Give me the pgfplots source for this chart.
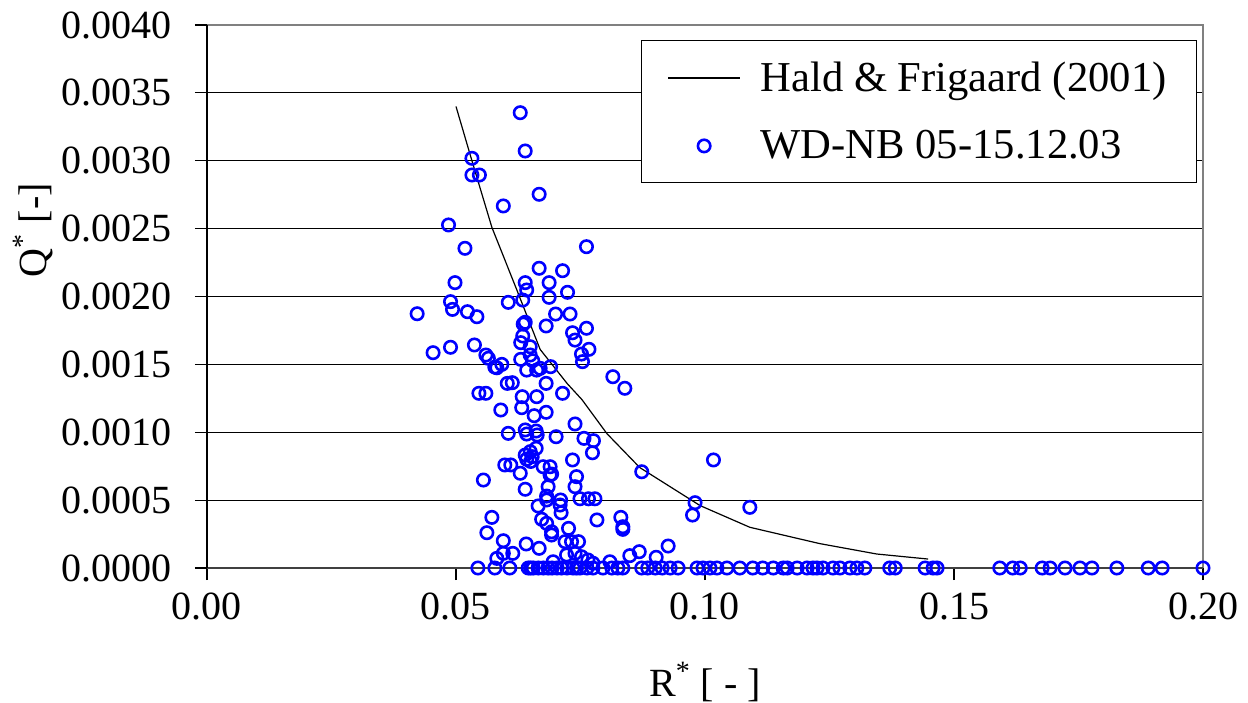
\documentclass[border=0pt]{standalone}
\usepackage{fontspec}
\setmainfont{Liberation Serif}
\usepackage{pgfplots}
\pgfplotsset{compat=1.18}
\definecolor{mblue}{RGB}{0,0,255}
\pgfplotsset{
  lineleg/.style={legend image code/.code={\draw[##1] (0pt,0pt) -- (36pt,0pt);}},
  markleg/.style={legend image code/.code={\draw[mark repeat=2,mark phase=2,##1] plot coordinates {(0pt,0pt) (18pt,0pt) (36pt,0pt)};}},
}
\begin{document}
\begin{tikzpicture}
\begin{axis}[
  at={(0,0)}, anchor=south west,
  scale only axis, width=498pt, height=271.5pt,
  xmin=0, xmax=0.2, ymin=0, ymax=0.004,
  xtick={0,0.05,0.1,0.15,0.2},
  ytick={0,0.0005,0.001,0.0015,0.002,0.0025,0.003,0.0035,0.004},
  scaled ticks=false,
  /pgf/number format/assume math mode=true,
  xticklabel style={/pgf/number format/fixed, /pgf/number format/fixed zerofill, /pgf/number format/precision=2, yshift=-3pt},
  yticklabel style={/pgf/number format/fixed, /pgf/number format/fixed zerofill, /pgf/number format/precision=4, xshift=-8pt},
  ticklabel style={font=\fontsize{20}{23}\selectfont},
  tick pos=left, tick align=outside, major tick length=6pt,
  tick style={black, line width=0.6pt},
  ymajorgrids, major grid style={black, line width=0.5pt},
  axis line style={draw=none},
  clip=false,
  every axis x label/.style={at={(rel axis cs:0.5,0)}, yshift=-57pt, anchor=center, font=\fontsize{20}{23}\selectfont},
  every axis y label/.style={at={(rel axis cs:0,0.622)}, xshift=-87pt, rotate=90, anchor=center, font=\fontsize{20}{23}\selectfont},
  xlabel={R\textsuperscript{*} [ - ]},
  ylabel={Q\textsuperscript{*} [-]},
  legend style={at={(rel axis cs:0.994,0.972)}, anchor=north east, draw=black, line width=0.5pt,
    font=\fontsize{21.3}{25}\selectfont, inner xsep=13pt, inner ysep=8.5pt, row sep=14pt, fill=white,
    /tikz/every odd column/.append style={column sep=8pt}},
  legend cell align=left,
]
\draw[line width=1pt, gray] (rel axis cs:0,1) -- (rel axis cs:1,1) -- (rel axis cs:1,0);
\draw[line width=1pt, black!75] (rel axis cs:0,0) -- (rel axis cs:1,0);
\draw[line width=1pt, black] (rel axis cs:0,0) -- (rel axis cs:0,1);
\addplot[black, line width=0.6pt, mark=none, lineleg] coordinates {
(0.0500,0.003400) (0.0532,0.003000) (0.0572,0.002510) (0.0622,0.002050)
(0.0669,0.001610) (0.0723,0.001360) (0.0753,0.001240) (0.0803,0.000990)
(0.0869,0.000740) (0.0990,0.000460) (0.1090,0.000300) (0.1230,0.000180)
(0.1345,0.000103) (0.1448,0.000066)
};
\addlegendentry{Hald \& Frigaard (2001)}
\addplot[only marks, mark=o, mark size=3.1pt, mblue, line width=1.3pt, markleg] coordinates {
(0.0629,0.003354) (0.0639,0.003072) (0.0532,0.003018) (0.0532,0.002895)
(0.0547,0.002895) (0.0667,0.002753) (0.0595,0.002667) (0.0485,0.002527)
(0.0518,0.002355) (0.0762,0.002367) (0.0667,0.002208) (0.0714,0.002190)
(0.0498,0.002102) (0.0639,0.002102) (0.0687,0.002102) (0.0642,0.002048)
(0.0724,0.002031) (0.0489,0.001962) (0.0605,0.001957) (0.0634,0.001974)
(0.0687,0.001994) (0.0422,0.001873) (0.0493,0.001905) (0.0523,0.001888)
(0.0542,0.001851) (0.0700,0.001871) (0.0729,0.001871) (0.0635,0.001797)
(0.0639,0.001810) (0.0681,0.001783) (0.0734,0.001733) (0.0762,0.001766)
(0.0739,0.001679) (0.0634,0.001709) (0.0630,0.001660) (0.0454,0.001586)
(0.0489,0.001626) (0.0537,0.001643) (0.0649,0.001630) (0.0560,0.001569)
(0.0565,0.001545) (0.0767,0.001611) (0.0752,0.001576) (0.0754,0.001520)
(0.0630,0.001537) (0.0649,0.001569) (0.0654,0.001527) (0.0582,0.001475)
(0.0592,0.001500) (0.0578,0.001480) (0.0642,0.001458) (0.0662,0.001458)
(0.0690,0.001483) (0.0669,0.001471) (0.0815,0.001409) (0.0603,0.001360)
(0.0613,0.001365) (0.0681,0.001360) (0.0546,0.001287) (0.0560,0.001287)
(0.0633,0.001262) (0.0662,0.001262) (0.0714,0.001287) (0.0839,0.001324)
(0.0739,0.001061) (0.0757,0.000955) (0.0776,0.000938) (0.0774,0.000849)
(0.0734,0.000796) (0.0681,0.001147) (0.0657,0.001122) (0.0632,0.001181)
(0.0590,0.001164) (0.0605,0.000992) (0.0639,0.001017) (0.0642,0.000987)
(0.0661,0.001009) (0.0663,0.000980) (0.0701,0.000967) (0.0639,0.000832)
(0.0661,0.000882) (0.0649,0.000857) (0.0642,0.000801) (0.0675,0.000746)
(0.0689,0.000746) (0.0598,0.000759) (0.0610,0.000759) (0.0629,0.000698)
(0.0689,0.000685) (0.0742,0.000673) (0.0555,0.000648) (0.0653,0.000820)
(0.0650,0.000785) (0.0692,0.000692) (0.0639,0.000580) (0.0685,0.000599)
(0.0739,0.000599) (0.0682,0.000530) (0.0682,0.000501) (0.0710,0.000501)
(0.0665,0.000457) (0.0709,0.000464) (0.0711,0.000407) (0.0749,0.000510)
(0.0766,0.000510) (0.0779,0.000510) (0.0783,0.000354) (0.0572,0.000373)
(0.0562,0.000260) (0.0672,0.000359) (0.0682,0.000329) (0.0692,0.000267)
(0.0692,0.000243) (0.0726,0.000292) (0.0719,0.000194) (0.0732,0.000194)
(0.0746,0.000194) (0.0595,0.000201) (0.0641,0.000177) (0.0667,0.000145)
(0.0614,0.000108) (0.0595,0.000108) (0.0582,0.000071) (0.0722,0.000096)
(0.0739,0.000108) (0.0752,0.000083) (0.0765,0.000059) (0.0775,0.000035)
(0.0695,0.000046) (0.0809,0.000046) (0.1017,0.000796) (0.0873,0.000709)
(0.0980,0.000481) (0.0975,0.000390) (0.1090,0.000447) (0.0831,0.000373)
(0.0835,0.000304) (0.0835,0.000285) (0.0926,0.000162) (0.0868,0.000120)
(0.0849,0.000091) (0.0902,0.000079)
(0.0544,0) (0.0578,0) (0.0608,0) (0.0645,0) (0.0650,0) (0.0655,0) (0.0665,0)
(0.0675,0) (0.0685,0) (0.0693,0) (0.0703,0) (0.0712,0) (0.0723,0) (0.0735,0)
(0.0742,0) (0.0749,0) (0.0763,0) (0.0775,0) (0.0795,0) (0.0813,0) (0.0825,0)
(0.0835,0) (0.0873,0) (0.0885,0) (0.0900,0) (0.0914,0) (0.0930,0) (0.0946,0)
(0.0984,0) (0.0996,0) (0.1010,0) (0.1024,0) (0.1044,0) (0.1070,0) (0.1096,0)
(0.1116,0) (0.1137,0) (0.1157,0) (0.1165,0) (0.1185,0) (0.1205,0) (0.1217,0)
(0.1225,0) (0.1237,0) (0.1257,0) (0.1271,0) (0.1291,0) (0.1305,0) (0.1321,0)
(0.1371,0) (0.1382,0) (0.1442,0) (0.1458,0) (0.1466,0) (0.1592,0) (0.1618,0)
(0.1633,0) (0.1677,0) (0.1693,0) (0.1723,0) (0.1753,0) (0.1777,0) (0.1827,0)
(0.1890,0) (0.1918,0) (0.2000,0)
};
\addlegendentry{WD-NB 05-15.12.03}
\end{axis}
\pgfresetboundingbox
\path (-103.5pt,-67pt) rectangle (520.5pt,284pt);
\end{tikzpicture}
\end{document}
